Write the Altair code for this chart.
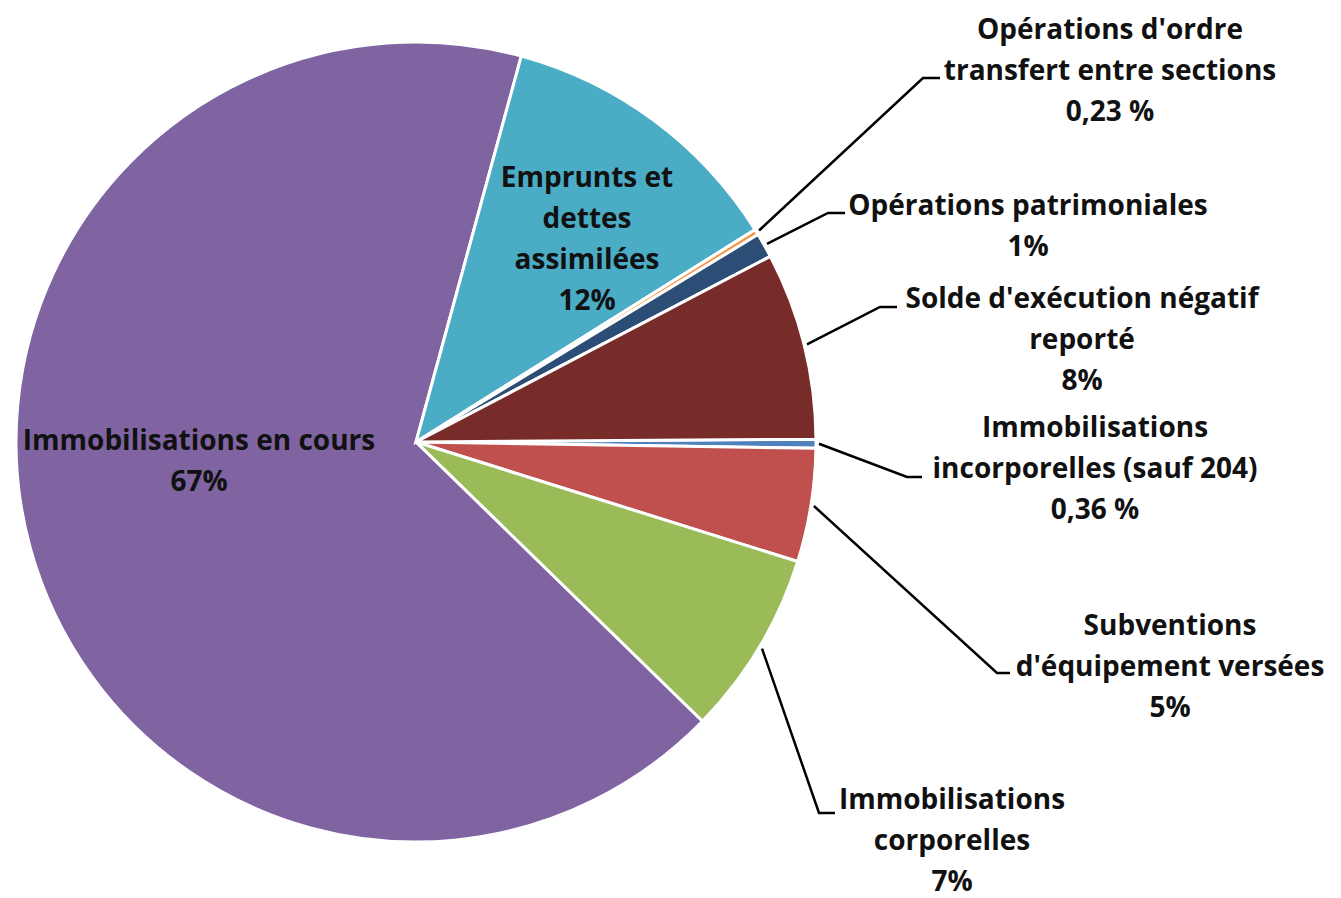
import math
import altair as alt
import pandas as pd

# ---- data ----
categories = [
    "Immobilisations incorporelles (sauf 204)",
    "Subventions d'équipement versées",
    "Immobilisations corporelles",
    "Immobilisations en cours",
    "Emprunts et dettes assimilées",
    "Opérations d'ordre transfert entre sections",
    "Opérations patrimoniales",
    "Solde d'exécution négatif reporté",
]
values = [0.36, 4.6, 7.5, 67.2, 11.9, 0.23, 1.0, 7.6]
colors = ["#4F81BD", "#C0504D", "#9BBB59", "#8064A2", "#4BACC6", "#F79646", "#2C4D75", "#772C2A"]

label_lines = [
    ["Immobilisations", "incorporelles (sauf 204)", "0,36 %"],
    ["Subventions", "d'équipement versées", "5%"],
    ["Immobilisations", "corporelles", "7%"],
    ["Immobilisations en cours", "67%"],
    ["Emprunts et", "dettes", "assimilées", "12%"],
    ["Opérations d'ordre", "transfert entre sections", "0,23 %"],
    ["Opérations patrimoniales", "1%"],
    ["Solde d'exécution négatif", "reporté", "8%"],
]

# ---- layout (page pixels) ----
W, H = 1325, 890
CX, CY, R = 416, 442, 400
START = math.radians(89.6)
label_x = [1095, 1170, 952, 199, 587, 1110, 1028, 1082]
label_y0 = [429, 627, 801, 442, 179, 31, 207, 300]
LINE_H = 41
leader = [True, True, True, False, False, True, True, True]
elbow = [(907, 477), (997, 673), (819, 813), None, None, (923, 78), (828, 213), (880, 307)]
elbow_end = [922, 1010, 835, None, None, 940, 845, 897]

df = pd.DataFrame({"cat": categories, "value": values, "idx": range(len(values))})

# text rows
trows = []
for i, lines in enumerate(label_lines):
    for k, t in enumerate(lines):
        trows.append({"t": t, "x": label_x[i], "y": label_y0[i] + k * LINE_H, "cat": categories[i]})
tdf = pd.DataFrame(trows)

# leader lines: start at slice middle angle on the rim
total = sum(values)
lrows = []
cum = 0.0
for i, v in enumerate(values):
    mid = START + 2 * math.pi * (cum + v / 2) / total
    cum += v
    if not leader[i]:
        continue
    r0 = R + 3
    sx = CX + r0 * math.sin(mid)
    sy = CY - r0 * math.cos(mid)
    lrows.append({"cat": categories[i], "o": 0, "x": sx, "y": sy})
    lrows.append({"cat": categories[i], "o": 1, "x": elbow[i][0], "y": elbow[i][1]})
    lrows.append({"cat": categories[i], "o": 2, "x": elbow_end[i], "y": elbow[i][1]})
ldf = pd.DataFrame(lrows)

xs = alt.Scale(domain=[8, 8 + W])
ys = alt.Scale(domain=[8, 8 + H], reverse=True)

pie = alt.Chart(df).mark_arc(stroke="white", strokeWidth=3).encode(
    theta=alt.Theta("value:Q", stack=True, scale=alt.Scale(range=[START, START + 2 * math.pi])),
    order=alt.Order("idx:Q"),
    color=alt.Color("cat:N", scale=alt.Scale(domain=categories, range=colors), legend=None),
    x=alt.value(CX - 8),
    y=alt.value(CY - 8),
    radius=alt.value(R),
)

lines_layer = alt.Chart(ldf).mark_line(color="black", strokeWidth=2.5).encode(
    x=alt.X("x:Q", scale=xs, axis=None),
    y=alt.Y("y:Q", scale=ys, axis=None),
    detail="cat:N",
    order="o:Q",
)

text_layer = alt.Chart(tdf).mark_text(
    font="Open Sans", fontSize=28, fontWeight="bold", color="#111111", align="center", baseline="middle"
).encode(
    x=alt.X("x:Q", scale=xs, axis=None),
    y=alt.Y("y:Q", scale=ys, axis=None),
    text="t:N",
)

chart = alt.layer(pie, lines_layer, text_layer).properties(
    width=W, height=H, autosize=alt.AutoSizeParams(type="none"), padding=0
).configure_view(stroke=None)

chart.save("out.html", embed_options={"renderer": "svg", "actions": False})
